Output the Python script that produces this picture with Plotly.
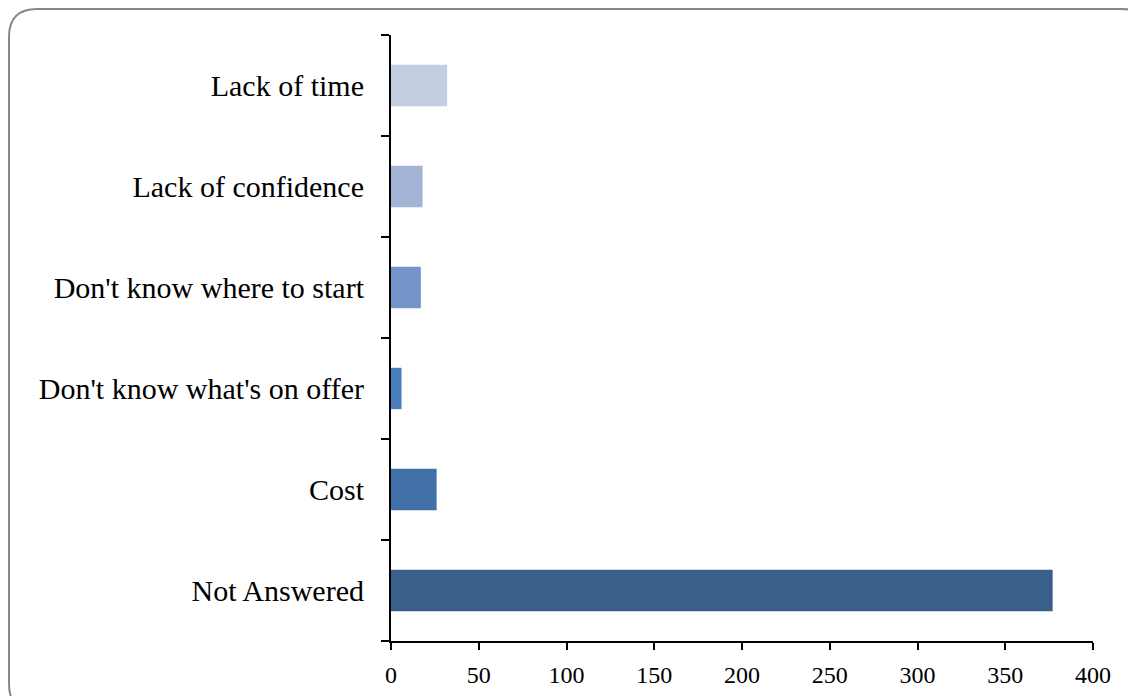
import plotly.graph_objects as go

categories = ["Not Answered", "Cost", "Don't know what's on offer",
              "Don't know where to start", "Lack of confidence", "Lack of time"]
values = [377, 26, 6, 17, 18, 32]
colors = ["#3A5F8B", "#4170A8", "#4A7EBB", "#7395C8", "#A3B5D7", "#C3CEE3"]
x_ticks = [0, 50, 100, 150, 200, 250, 300, 350, 400]

W, H = 1136, 696
L, R, T, B = 383, 51, 27, 63

fig = go.Figure(go.Bar(
    y=categories, x=values, orientation="h",
    marker=dict(color=colors, line=dict(width=0)),
))

font_family = "Liberation Serif"
fig.update_layout(
    width=W, height=H,
    margin=dict(l=L, r=R, t=T, b=B, autoexpand=False),
    paper_bgcolor="white", plot_bgcolor="white",
    bargap=0.59, showlegend=False,
    font=dict(family=font_family, color="black"),
)
fig.update_xaxes(
    range=[0, 400], tickvals=x_ticks, ticks="outside", ticklen=7, tickwidth=2,
    tickcolor="black", showline=True, linecolor="black", linewidth=2,
    showgrid=False, zeroline=False, ticklabelstandoff=4,
    tickfont=dict(size=24, family=font_family),
)
fig.update_yaxes(
    categoryorder="array", categoryarray=categories,
    tickson="boundaries", ticks="outside", ticklen=8, tickwidth=2,
    tickcolor="black", showline=True, linecolor="black", linewidth=2,
    showgrid=False, zeroline=False, ticklabelstandoff=19,
    tickfont=dict(size=30, family=font_family),
)

# rounded border in pixel -> paper coordinates
def px(x):
    return (x - L) / (W - L - R)

def py(y):
    return 1 - (y - T) / (H - T - B)

x0, y0, x1, y1, r = 1, 1, 1142, 704, 28
path = (
    f"M {px(x0)},{py(y0 + r)} "
    f"Q {px(x0)},{py(y0)} {px(x0 + r)},{py(y0)} "
    f"L {px(x1 - r)},{py(y0)} "
    f"Q {px(x1)},{py(y0)} {px(x1)},{py(y0 + r)} "
    f"L {px(x1)},{py(y1 - r)} "
    f"Q {px(x1)},{py(y1)} {px(x1 - r)},{py(y1)} "
    f"L {px(x0 + r)},{py(y1)} "
    f"Q {px(x0)},{py(y1)} {px(x0)},{py(y1 - r)} Z"
)
fig.add_shape(type="path", path=path, xref="paper", yref="paper",
              line=dict(color="#878787", width=2), layer="below")

fig.write_html("out.html")
